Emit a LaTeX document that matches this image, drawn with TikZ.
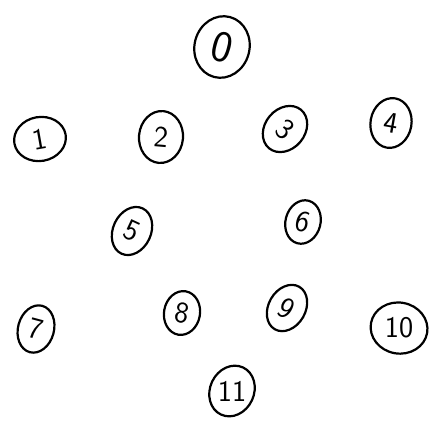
\documentclass[tikz,border=0pt]{standalone}
\usetikzlibrary{shapes.geometric}

\begin{document}
\begin{tikzpicture}[x=1pt, y=-1pt]
    % Define styles
    \definecolor{inkColour}{HTML}{000000}
    \tikzset{
        vertex/.style={draw=inkColour, ellipse, line width=2.2pt, inner sep=0pt,
            font=\sffamily\fontsize{30}{30}\selectfont},
        root/.style={vertex, font=\sffamily\fontsize{44}{44}\selectfont},
        label/.style={inner sep=0pt, font=\sffamily\fontsize{30}{30}\selectfont},
        ring/.style={draw=inkColour, line width=2.2pt}
    }

    % Fix the page size
    \useasboundingbox (0,0) rectangle (433,424);

    % Draw the top vertex
    \node[root, minimum width=55pt, minimum height=62pt, rotate=-15] (v0) at (222,47) {0};

    % Draw the second row
    \node[vertex, minimum width=52pt, minimum height=44pt, rotate=10] (v1) at (40,139) {1};
    \node[vertex, minimum width=44pt, minimum height=52pt, rotate=-5] (v2) at (161,137) {2};
    \node[vertex, minimum width=40pt, minimum height=50pt, rotate=-40] (v3) at (285,129) {3};
    \node[vertex, minimum width=41pt, minimum height=50pt, rotate=-10] (v4) at (391,123) {4};

    % Draw the third row
    \node[vertex, minimum width=38pt, minimum height=50pt, rotate=-25] (v5) at (132,231) {5};
    \node[vertex, minimum width=35pt, minimum height=44pt, rotate=-15] (v6) at (303,222) {6};

    % Draw the fourth row
    \node[vertex, minimum width=36pt, minimum height=48pt, rotate=-15] (v7) at (36,329) {7};
    \node[vertex, minimum width=36pt, minimum height=44pt, rotate=-10] (v8) at (182,313) {8};
    \node[vertex, minimum width=37pt, minimum height=49pt, rotate=-30] (v9) at (287,308) {9};
    \node[label] (v10) at (399,328) {10};
    \draw[ring, rotate around={-10:(v10)}] (v10) ellipse [x radius=28.5pt, y radius=25.5pt];

    % Draw the bottom vertex
    \node[label] (v11) at (232,391) {11};
    \draw[ring, rotate around={-25:(v11)}] (v11) ellipse [x radius=22pt, y radius=26pt];

\end{tikzpicture}
\end{document}
